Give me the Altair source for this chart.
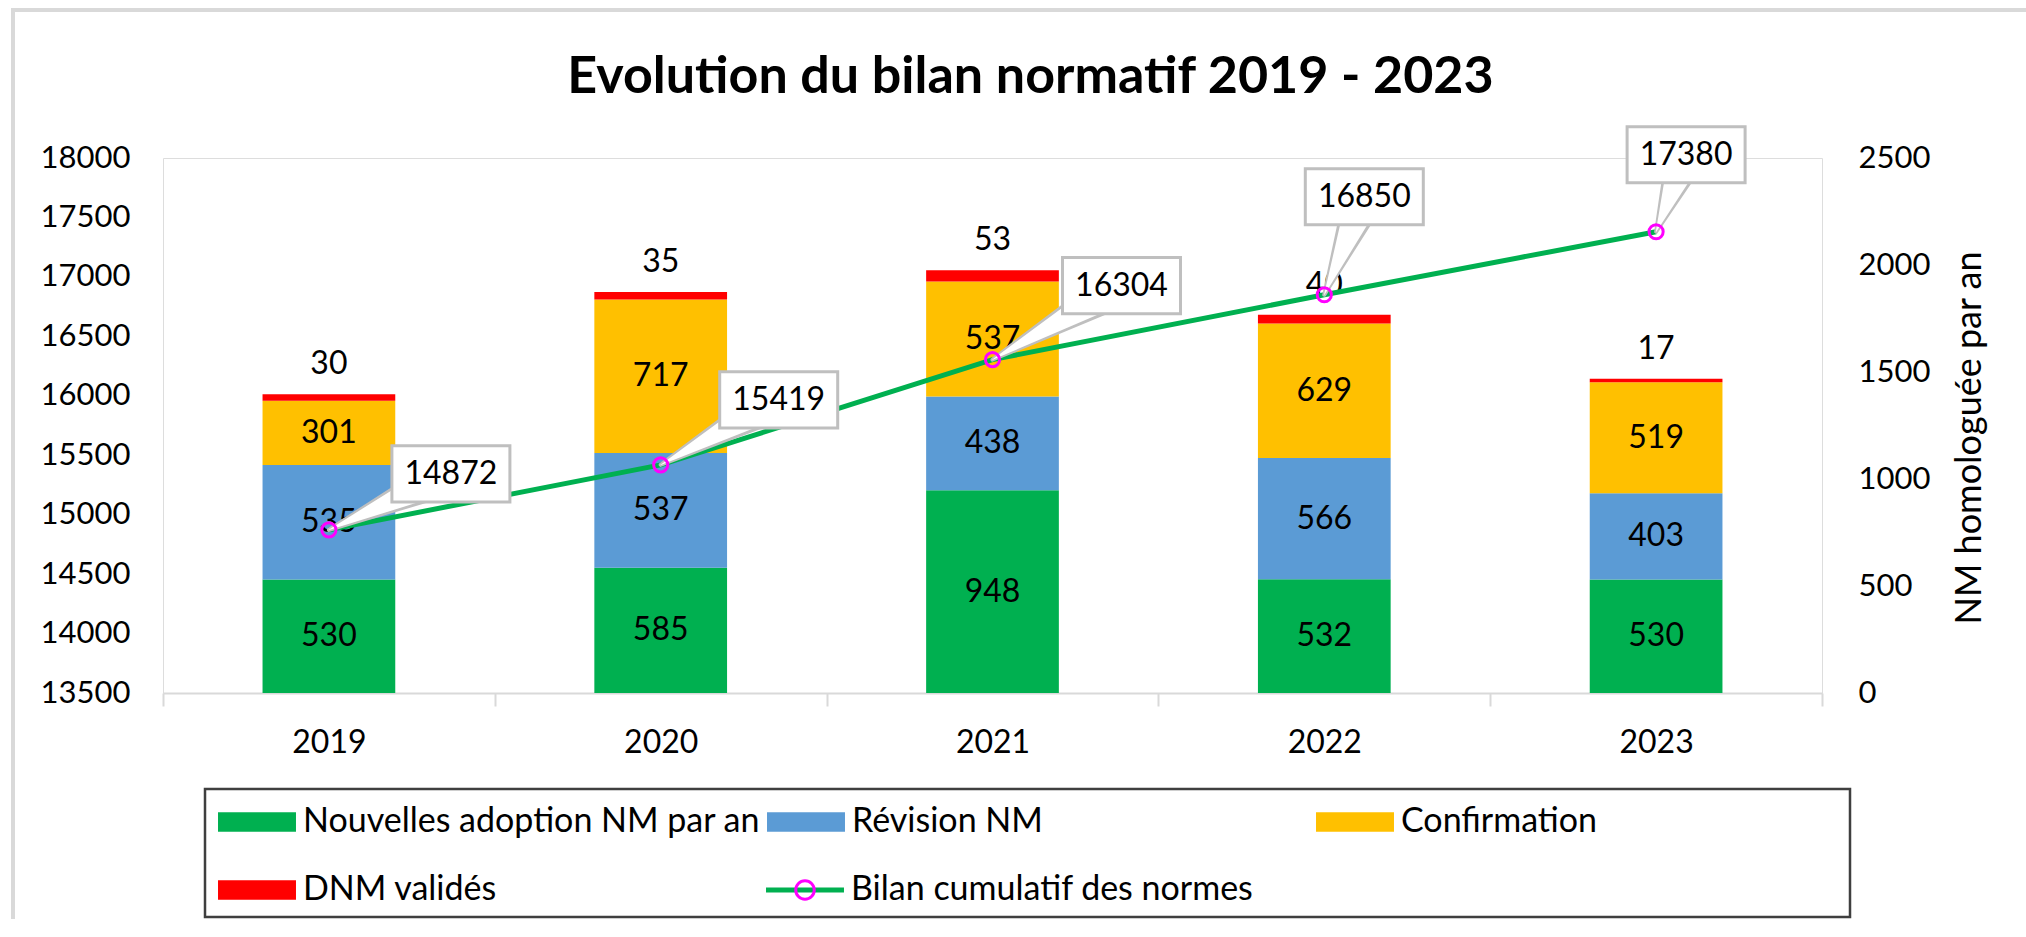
import altair as alt
import pandas as pd

# ---------------- data ----------------
years = ["2019", "2020", "2021", "2022", "2023"]
nouvelles = [530, 585, 948, 532, 530]
revision = [535, 537, 438, 566, 403]
confirmation = [301, 717, 537, 629, 519]
dnm = [30, 35, 53, 40, 17]
bilan = [14872, 15419, 16304, 16850, 17380]

series_names = ["Nouvelles adoption NM par an", "Révision NM", "Confirmation", "DNM validés"]
series_colors = ["#00B050", "#5B9BD5", "#FFC000", "#FF0000"]
line_name = "Bilan cumulatif des normes"
title_text = "Evolution du bilan normatif 2019 - 2023"
right_title = "NM homologuée par an"
left_ticks = [13500, 14000, 14500, 15000, 15500, 16000, 16500, 17000, 17500, 18000]
right_ticks = [0, 500, 1000, 1500, 2000, 2500]

# callout box placement (pixel offsets from each point) - layout only
callout_dx = [122, 118, 129, 40, 30]
callout_dy = [-56, -65, -74, -98, -77]

# ---------------- layout / style ----------------
FONT = "Lato"
W, H = 1659, 535
TOTAL_W, TOTAL_H = 2026, 919
PAD = {"left": 163, "top": 158, "right": TOTAL_W - 163 - W, "bottom": TOTAL_H - 158 - H}
LBL = 31
LEG_FS = 34
LEG_X, LEG_Y = 40, 632

rows = []
for i, yr in enumerate(years):
    base = 0
    for k, (name, vals) in enumerate(zip(series_names, [nouvelles, revision, confirmation, dnm])):
        v = vals[i]
        rows.append(dict(year=yr, serie=name, value=v, y0=base, y1=base + v, mid=base + v / 2, k=k))
        base += v
bars_df = pd.DataFrame(rows)

line_df = pd.DataFrame({"year": years, "bilan": bilan, "lbl": [line_name] * len(years),
                        "ox": callout_dx, "oy": callout_dy})
tail_rows = []
for i, yr in enumerate(years):
    tail_rows.append(dict(year=yr, bilan=bilan[i], ox=0, oy=0, k=0, wg=4, ww=0.5))
    tail_rows.append(dict(year=yr, bilan=bilan[i], ox=callout_dx[i], oy=callout_dy[i], k=1, wg=42, ww=35))
tail_df = pd.DataFrame(tail_rows)

x_enc = alt.X(
    "year:N", sort=years,
    scale=alt.Scale(paddingInner=0, paddingOuter=0),
    axis=alt.Axis(title=None, labelAngle=0, labelFontSize=32, labelColor="#000000", labelFont=FONT,
                  domainColor="#D9D9D9", domainWidth=2, tickColor="#D9D9D9", tickWidth=2,
                  tickSize=13, tickBand="extent", labelPadding=21, grid=False),
)

right_scale = alt.Scale(domain=[0, 2500], nice=False, zero=True)
left_scale = alt.Scale(domain=[13500, 18000], nice=False, zero=False)

# ---------------- bars (right axis) ----------------
bars = alt.Chart(bars_df).mark_bar(width=alt.RelativeBandSize(0.4)).encode(
    x=x_enc,
    y=alt.Y("y1:Q", scale=right_scale,
            axis=alt.Axis(orient="right", values=right_ticks, format="d", domain=False, ticks=False,
                          grid=False, labelPadding=36, labelFontSize=LBL, labelColor="#000000",
                          labelFont=FONT,
                          title=right_title, titleFontSize=36, titleFontWeight="normal",
                          titleFont=FONT, titleColor="#000000", titleAngle=270, titleX=147,
                          titleY=H / 2 + 12, titleAlign="center", titleBaseline="middle")),
    y2="y0:Q",
    color=alt.Color("serie:N", scale=alt.Scale(domain=series_names, range=series_colors),
                    legend=alt.Legend(title=None, orient="none", legendX=LEG_X, legendY=LEG_Y,
                                      direction="horizontal", columns=3, gridAlign="all",
                                      columnPadding=6, rowPadding=34, padding=15,
                                      symbolType="M-4,-1L4,-1L4,1L-4,1Z", symbolSize=380,
                                      symbolStrokeWidth=0, symbolOffset=22, symbolOpacity=1,
                                      labelOffset=29, labelFontSize=LEG_FS, labelFont=FONT,
                                      labelColor="#000000", labelLimit=2000)),
)

seg_text = alt.Chart(bars_df).transform_filter("datum.k < 3").mark_text(
    fontSize=32, font=FONT, color="#000000", baseline="middle"
).encode(
    x=x_enc,
    y=alt.Y("mid:Q", scale=right_scale, axis=None),
    text="value:Q",
)
top_text = alt.Chart(bars_df).transform_filter("datum.k == 3").mark_text(
    fontSize=32, font=FONT, color="#000000", baseline="alphabetic", dy=-20
).encode(
    x=x_enc,
    y=alt.Y("y1:Q", scale=right_scale, axis=None),
    text="value:Q",
)

# ---------------- line (left axis) ----------------
line = alt.Chart(line_df).mark_line(strokeWidth=5).encode(
    x=x_enc,
    y=alt.Y("bilan:Q", scale=left_scale,
            axis=alt.Axis(orient="left", values=left_ticks, format="d", domain=False, ticks=False,
                          grid=False, labelPadding=33, labelFontSize=LBL, labelColor="#000000",
                          labelFont=FONT, title=None)),
    color=alt.Color("lbl:N", scale=alt.Scale(domain=[line_name], range=["#00B050"]),
                    legend=alt.Legend(title=None, orient="none", legendX=603, legendY=715,
                                      padding=0, symbolType="M-4,0L4,0", symbolSize=380,
                                      symbolStrokeWidth=5, symbolOffset=22, symbolOpacity=1,
                                      labelOffset=29, labelFontSize=LEG_FS, labelFont=FONT,
                                      labelColor="#000000", labelLimit=2000)),
)
tail_gray = alt.Chart(tail_df).mark_trail(
    color="#BFBFBF", xOffset=alt.ExprRef(expr="datum.ox"), yOffset=alt.ExprRef(expr="datum.oy")
).encode(
    x=x_enc,
    y=alt.Y("bilan:Q", scale=left_scale, axis=None),
    size=alt.Size("wg:Q", scale=None, legend=None),
    detail="year:N",
    order=alt.Order("k:Q"),
)
tail_white = alt.Chart(tail_df).mark_trail(
    color="#FFFFFF", xOffset=alt.ExprRef(expr="datum.ox"), yOffset=alt.ExprRef(expr="datum.oy")
).encode(
    x=x_enc,
    y=alt.Y("bilan:Q", scale=left_scale, axis=None),
    size=alt.Size("ww:Q", scale=None, legend=None),
    detail="year:N",
    order=alt.Order("k:Q"),
)
points = alt.Chart(line_df).mark_point(
    shape="circle", size=200, filled=False, strokeWidth=3, opacity=1
).encode(
    x=x_enc,
    y=alt.Y("bilan:Q", scale=left_scale, axis=None),
    color=alt.Color("lbl:N", scale=alt.Scale(domain=[line_name], range=["#FF00FF"]),
                    legend=alt.Legend(title=None, orient="none", legendX=603, legendY=715,
                                      padding=0,
                                      symbolType="M0.95,0A0.95,0.95,0,1,1,-0.95,0A0.95,0.95,0,1,1,0.95,0Z",
                                      symbolSize=380, symbolStrokeWidth=3, symbolOffset=22,
                                      symbolFillColor="#FFFFFF", symbolOpacity=1,
                                      labelOffset=29, labelFontSize=LEG_FS, labelFont=FONT,
                                      labelOpacity=0, labelLimit=2000)),
)
boxes = alt.Chart(line_df).mark_point(
    shape="M-1,-0.475L1,-0.475L1,0.475L-1,0.475Z", size=118 * 118, filled=True,
    fill="#FFFFFF", stroke="#BFBFBF", strokeWidth=3, opacity=1,
    xOffset=alt.ExprRef(expr="datum.ox"), yOffset=alt.ExprRef(expr="datum.oy"),
).encode(
    x=x_enc,
    y=alt.Y("bilan:Q", scale=left_scale, axis=None),
)
box_text = alt.Chart(line_df).mark_text(
    fontSize=32, font=FONT, color="#000000", baseline="middle",
    xOffset=alt.ExprRef(expr="datum.ox"), yOffset=alt.ExprRef(expr="datum.oy"),
).encode(
    x=x_enc,
    y=alt.Y("bilan:Q", scale=left_scale, axis=None),
    text="bilan:Q",
)

# ---------------- decorations: chart frame and legend border ----------------
one = pd.DataFrame({"a": [0]})
frame_top = alt.Chart(one).mark_rule(color="#D9D9D9", strokeWidth=4).encode(
    x=alt.value(-152), x2=alt.value(TOTAL_W - 163), y=alt.value(10 - 158)
)
frame_left = alt.Chart(one).mark_rule(color="#D9D9D9", strokeWidth=4).encode(
    x=alt.value(13 - 163), y=alt.value(8 - 158), y2=alt.value(TOTAL_H - 158)
)
legend_box = alt.Chart(one).mark_rect(fill="transparent", stroke="#3F3F3F", strokeWidth=2.5).encode(
    x=alt.value(205 - 163), x2=alt.value(1850 - 163), y=alt.value(789 - 158), y2=alt.value(917 - 158)
)

chart = alt.layer(
    frame_top, frame_left, legend_box,
    bars, seg_text, top_text,
    line, tail_gray, tail_white, points, boxes, box_text,
).resolve_scale(
    y="independent", color="independent", size="independent"
).properties(
    width=W, height=H,
    padding=PAD,
    autosize=alt.AutoSizeParams(type="none"),
    title=alt.TitleParams(title_text, font=FONT, fontSize=52, fontWeight="bold", color="#000000",
                          anchor="middle", frame="group", dx=38, offset=-139, baseline="alphabetic"),
).configure_view(strokeWidth=0, stroke="transparent").configure(background="#FFFFFF")

chart.save("out.html", embed_options={"renderer": "svg", "actions": False})
